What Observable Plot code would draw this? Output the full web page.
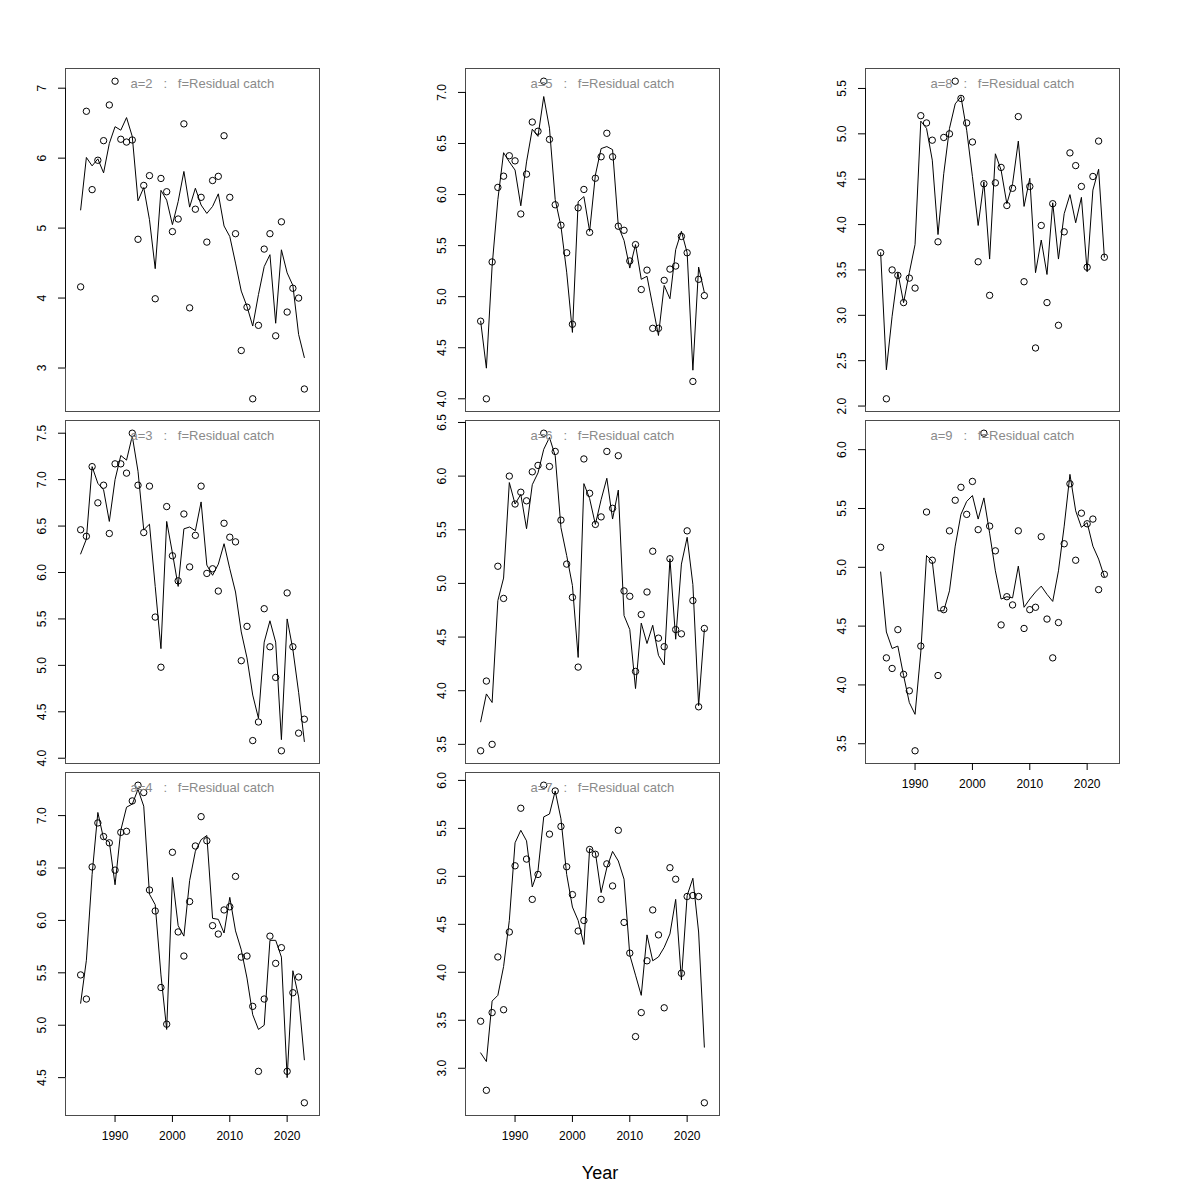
<!DOCTYPE html>
<html><head><meta charset="utf-8">
<script src="https://cdn.jsdelivr.net/npm/d3@7"></script>
<script src="https://cdn.jsdelivr.net/npm/@observablehq/plot@0.6"></script>
<style>
body{margin:0;background:#fff;}
#root{position:relative;width:1200px;height:1200px;background:#fff;font-family:"Liberation Sans",Arial,sans-serif;}
.panel{position:absolute;}
.panel svg{overflow:visible;}
#xlab{position:absolute;left:0;width:1200px;top:1164px;text-align:center;font-size:18px;line-height:18px;color:#000;}
</style></head><body><div id="root"></div>
<script>
const years = [1984,1985,1986,1987,1988,1989,1990,1991,1992,1993,1994,1995,1996,1997,1998,1999,2000,2001,2002,2003,2004,2005,2006,2007,2008,2009,2010,2011,2012,2013,2014,2015,2016,2017,2018,2019,2020,2021,2022,2023];
const xTicks = [1990, 2000, 2010, 2020];
const fleet = "f=Residual catch";

const obsA2 = [4.16,6.67,5.55,5.97,6.25,6.76,7.10,6.27,6.23,6.26,4.84,5.61,5.75,3.99,5.71,5.52,4.95,5.13,6.49,3.86,5.27,5.44,4.80,5.68,5.74,6.32,5.44,4.92,3.25,3.87,2.56,3.61,4.70,4.92,3.46,5.09,3.80,4.14,4.00,2.70];
const fitA2 = [5.26,6.01,5.89,5.99,5.79,6.21,6.45,6.40,6.58,6.31,5.39,5.58,5.12,4.42,5.54,5.40,5.05,5.38,5.81,5.30,5.57,5.33,5.21,5.31,5.49,5.03,4.88,4.50,4.10,3.88,3.60,4.05,4.45,4.62,3.64,4.69,4.36,4.18,3.48,3.15];
const ticksA2 = [3,4,5,6,7];

const obsA3 = [6.46,6.39,7.14,6.75,6.94,6.42,7.17,7.17,7.07,7.50,6.94,6.43,6.93,5.52,4.98,6.71,6.18,5.91,6.63,6.06,6.40,6.93,5.99,6.04,5.80,6.53,6.38,6.33,5.05,5.42,4.19,4.39,5.61,5.20,4.87,4.08,5.78,5.20,4.27,4.42];
const fitA3 = [6.20,6.36,7.14,6.96,6.89,6.55,7.00,7.26,7.21,7.47,7.09,6.46,6.52,5.85,5.18,6.55,6.21,5.85,6.47,6.49,6.45,6.76,6.08,5.97,6.09,6.31,6.04,5.79,5.36,5.08,4.68,4.43,5.25,5.48,5.25,4.20,5.50,5.17,4.71,4.18];
const ticksA3 = [4.0,4.5,5.0,5.5,6.0,6.5,7.0,7.5];

const obsA4 = [5.48,5.25,6.51,6.93,6.80,6.74,6.48,6.84,6.85,7.14,7.29,7.22,6.29,6.09,5.36,5.01,6.65,5.89,5.66,6.18,6.71,6.99,6.76,5.95,5.87,6.10,6.13,6.42,5.65,5.66,5.18,4.56,5.25,5.85,5.59,5.74,4.56,5.31,5.46,4.26];
const fitA4 = [5.21,5.62,6.44,7.03,6.78,6.75,6.34,6.86,7.08,7.11,7.25,7.09,6.25,6.15,5.48,4.96,6.41,5.95,5.85,6.38,6.66,6.77,6.81,6.02,6.01,5.88,6.22,5.90,5.72,5.45,5.10,4.96,5.00,5.81,5.81,5.65,4.50,5.52,5.27,4.67];
const ticksA4 = [4.5,5.0,5.5,6.0,6.5,7.0];

const obsA5 = [4.76,4.00,5.34,6.07,6.18,6.38,6.33,5.81,6.20,6.71,6.62,7.11,6.54,5.90,5.70,5.43,4.73,5.87,6.05,5.63,6.16,6.37,6.60,6.37,5.69,5.65,5.35,5.51,5.07,5.26,4.69,4.69,5.16,5.27,5.30,5.59,5.43,4.17,5.17,5.01];
const fitA5 = [4.76,4.30,5.30,5.95,6.41,6.32,6.24,5.89,6.32,6.64,6.57,6.96,6.65,5.95,5.69,5.24,4.65,5.93,5.98,5.64,6.19,6.45,6.47,6.44,5.69,5.55,5.28,5.51,5.17,5.20,4.91,4.62,5.11,4.98,5.46,5.64,5.43,4.28,5.29,5.04];
const ticksA5 = [4.0,4.5,5.0,5.5,6.0,6.5,7.0];

const obsA6 = [3.44,4.09,3.50,5.16,4.86,6.00,5.74,5.85,5.77,6.04,6.10,6.40,6.09,6.23,5.59,5.18,4.87,4.22,6.16,5.84,5.55,5.62,6.23,5.70,6.19,4.93,4.88,4.18,4.71,4.92,5.30,4.49,4.41,5.23,4.57,4.53,5.49,4.84,3.85,4.58];
const fitA6 = [3.71,3.97,3.89,4.84,5.05,5.94,5.74,5.83,5.51,5.92,6.03,6.25,6.36,6.19,5.52,5.26,4.98,4.31,5.93,5.79,5.55,5.78,5.98,5.60,5.87,4.70,4.57,4.02,4.63,4.44,4.61,4.33,4.24,5.23,4.48,5.18,5.43,4.99,3.86,4.57];
const ticksA6 = [3.5,4.0,4.5,5.0,5.5,6.0,6.5];

const obsA7 = [3.49,2.77,3.58,4.16,3.61,4.42,5.11,5.71,5.18,4.76,5.02,5.95,5.44,5.89,5.52,5.10,4.81,4.43,4.54,5.28,5.23,4.76,5.13,4.90,5.48,4.52,4.20,3.33,3.58,4.12,4.65,4.39,3.63,5.09,4.97,3.99,4.79,4.80,4.79,2.64];
const fitA7 = [3.16,3.07,3.70,3.76,4.06,4.54,5.35,5.48,5.37,4.89,5.06,5.62,5.65,5.89,5.60,5.02,4.68,4.54,4.29,5.29,5.25,4.83,5.09,5.26,5.16,4.97,4.18,3.97,3.76,4.39,4.12,4.16,4.26,4.40,4.76,3.92,4.80,4.98,4.42,3.22];
const ticksA7 = [3.0,3.5,4.0,4.5,5.0,5.5,6.0];

const obsA8 = [3.69,2.08,3.50,3.44,3.14,3.41,3.30,5.20,5.12,4.93,3.81,4.96,5.00,5.58,5.39,5.12,4.91,3.59,4.45,3.22,4.46,4.63,4.21,4.40,5.19,3.37,4.42,2.64,3.99,3.14,4.23,2.89,3.92,4.79,4.65,4.42,3.53,4.53,4.92,3.64];
const fitA8 = [3.69,2.40,2.99,3.47,3.14,3.47,3.78,5.14,5.06,4.71,3.89,4.56,5.06,5.33,5.41,5.04,4.53,3.99,4.47,3.62,4.78,4.60,4.23,4.45,4.92,4.20,4.51,3.47,3.83,3.45,4.24,3.62,4.12,4.33,4.02,4.30,3.48,4.38,4.61,3.64];
const ticksA8 = [2.0,2.5,3.0,3.5,4.0,4.5,5.0,5.5];

const obsA9 = [5.17,4.23,4.14,4.47,4.09,3.95,3.44,4.33,5.47,5.06,4.08,4.64,5.31,5.57,5.68,5.45,5.73,5.32,6.14,5.35,5.14,4.51,4.75,4.68,5.31,4.48,4.64,4.66,5.26,4.56,4.23,4.53,5.20,5.71,5.06,5.46,5.37,5.41,4.81,4.94];
const fitA9 = [4.96,4.45,4.31,4.33,4.08,3.85,3.75,4.28,5.10,5.05,4.63,4.63,4.80,5.18,5.45,5.56,5.61,5.41,5.59,5.29,4.97,4.73,4.75,4.74,5.01,4.66,4.73,4.79,4.84,4.77,4.71,4.97,5.35,5.79,5.48,5.34,5.38,5.18,5.07,4.92];
const ticksA9 = [3.5,4.0,4.5,5.0,5.5,6.0];

const panels = [
  {name:"a=2", col:0, row:0, obs:obsA2, fit:fitA2, ticks:ticksA2, xaxis:false},
  {name:"a=3", col:0, row:1, obs:obsA3, fit:fitA3, ticks:ticksA3, xaxis:false},
  {name:"a=4", col:0, row:2, obs:obsA4, fit:fitA4, ticks:ticksA4, xaxis:true},
  {name:"a=5", col:1, row:0, obs:obsA5, fit:fitA5, ticks:ticksA5, xaxis:false},
  {name:"a=6", col:1, row:1, obs:obsA6, fit:fitA6, ticks:ticksA6, xaxis:false},
  {name:"a=7", col:1, row:2, obs:obsA7, fit:fitA7, ticks:ticksA7, xaxis:true},
  {name:"a=8", col:2, row:0, obs:obsA8, fit:fitA8, ticks:ticksA8, xaxis:false},
  {name:"a=9", col:2, row:1, obs:obsA9, fit:fitA9, ticks:ticksA9, xaxis:true}
];

const root = document.getElementById("root");
const xlo = 1983, xhi = 2024, xpad = 0.04 * (xhi - xlo);
const colLeft = [0, 400, 800];
const rowTop = [68, 420, 772];
const frameW = 254, frameH = 343, mL = 65, mT = 10, mB = 45;
const sp = "\u00a0";

for (const p of panels) {
  const obsData = years.map((year, i) => ({year, value: p.obs[i]}));
  const fitData = years.map((year, i) => ({year, value: p.fit[i]}));
  const [lo, hi] = d3.extent([...p.obs, ...p.fit]);
  const pad = 0.04 * (hi - lo);
  const ylo = lo - pad, yhi = hi + pad;
  const dec = p.ticks.every(Number.isInteger) ? 0 : 1;
  const marks = [
    Plot.frame({stroke: "black", strokeOpacity: 0.7}),
    Plot.ruleX([xlo - xpad], {y1: p.ticks[0], y2: p.ticks[p.ticks.length - 1], stroke: "black", strokeOpacity: 0.85}),
    Plot.axisY(p.ticks, {tickSize: 7, tickRotate: -90, lineAnchor: "middle", tickPadding: 16, tickFormat: d => d.toFixed(dec), fontSize: 12, label: null}),
    Plot.line(fitData, {x: "year", y: "value", stroke: "black", strokeWidth: 1}),
    Plot.dot(obsData, {x: "year", y: "value", r: 3.2, stroke: "black", strokeWidth: 1}),
    Plot.text([`${p.name}${sp}${sp}${sp}:${sp}${sp}${sp}${fleet}`], {text: d => d, frameAnchor: "top-left", dx: 65, dy: 15, textAnchor: "start", lineAnchor: "middle", fill: "#8a8a8a", fontSize: 13})
  ];
  if (p.xaxis) {
    marks.push(
      Plot.ruleY([ylo], {x1: xTicks[0], x2: xTicks[xTicks.length - 1], stroke: "black", strokeOpacity: 0.85}),
      Plot.axisX(xTicks, {tickSize: 7, tickPadding: 9, tickFormat: d => String(d), fontSize: 12, label: null})
    );
  }
  const svg = Plot.plot({
    width: 400,
    height: frameH + mT + mB,
    marginTop: mT, marginBottom: mB, marginLeft: mL, marginRight: 400 - mL - frameW,
    x: {domain: [xlo - xpad, xhi + xpad], axis: p.xaxis ? undefined : null, label: null},
    y: {domain: [ylo, yhi], label: null},
    style: {fontFamily: "'Liberation Sans', Arial, sans-serif", fontSize: "12px", overflow: "visible", background: "transparent", color: "black"},
    marks
  });
  const div = document.createElement("div");
  div.className = "panel";
  div.style.left = colLeft[p.col] + "px";
  div.style.top = (rowTop[p.row] - mT) + "px";
  div.appendChild(svg);
  root.appendChild(div);
}
const xl = document.createElement("div");
xl.id = "xlab";
xl.textContent = "Year";
root.appendChild(xl);
</script></body></html>
